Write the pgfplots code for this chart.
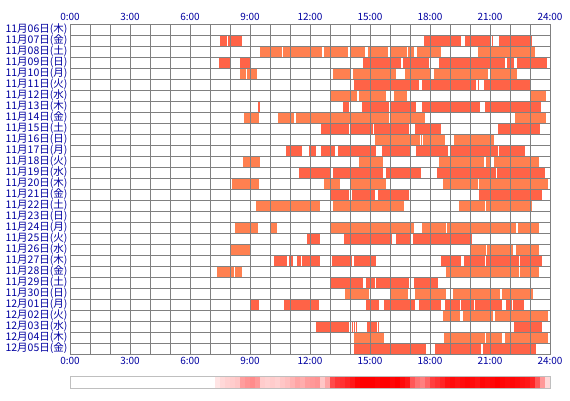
\documentclass[border=0pt]{standalone}
\usepackage{fontspec}
\usepackage{pgfplots}
\pgfplotsset{compat=1.18}
\newfontfamily\jp{Noto Sans CJK JP}
\definecolor{barA}{RGB}{255,99,71}
\definecolor{barB}{RGB}{255,128,80}
\definecolor{lbl}{RGB}{0,0,160}
\definecolor{gridc}{RGB}{128,128,128}
\begin{document}
\begin{tikzpicture}[x=1pt,y=1pt]
\useasboundingbox (0,0) rectangle (570,400);
\begin{axis}[
  at={(70pt,46pt)}, anchor=south west,
  width=480pt, height=330pt, scale only axis,
  xmin=0, xmax=24, ymin=0, ymax=30, y dir=reverse,
  xtick={0,3,...,24},
  xticklabels={0:00,3:00,6:00,9:00,12:00,15:00,18:00,21:00,24:00},
  minor xtick={0,1,...,24},
  ytick={0.5,1.5,...,29.5},
  yticklabels={11月06日(木),11月07日(金),11月08日(土),11月09日(日),11月10日(月),11月11日(火),11月12日(水),11月13日(木),11月14日(金),11月15日(土),11月16日(日),11月17日(月),11月18日(火),11月19日(水),11月20日(木),11月21日(金),11月22日(土),11月23日(日),11月24日(月),11月25日(火),11月26日(水),11月27日(木),11月28日(金),11月29日(土),11月30日(日),12月01日(月),12月02日(火),12月03日(水),12月04日(木),12月05日(金)},
  minor ytick={0,1,...,30},
  xmajorgrids, xminorgrids, yminorgrids,
  major grid style={draw=gridc, line width=1pt},
  minor grid style={draw=gridc, line width=1pt},
  major tick length=0pt, minor tick length=0pt,
  axis line style={draw=gridc, line width=1pt},
  axis on top,
  unbounded coords=jump,
  xticklabel style={font=\jp\fontsize{10}{10}\selectfont, text=lbl},
  yticklabel style={font=\jp\fontsize{10.5}{10.5}\selectfont, text=lbl, xshift=1pt},
  every axis plot/.append style={line width=11pt, line cap=butt, mark=none},
]
% row 1 11/07
\addplot[barA] coordinates {(7.52,1.5)(7.85,1.5)(nan,nan)(7.9,1.5)(8.6,1.5)(nan,nan)(17.72,1.5)(19.55,1.5)(nan,nan)(19.77,1.5)(21.05,1.5)(nan,nan)(21.08,1.5)(21.12,1.5)(nan,nan)(21.47,1.5)(23.1,1.5)};
% row 2 11/08
\addplot[barB] coordinates {(9.5,2.5)(10.58,2.5)(nan,nan)(10.65,2.5)(12.58,2.5)(nan,nan)(12.72,2.5)(13.92,2.5)(nan,nan)(14.03,2.5)(14.75,2.5)(nan,nan)(14.88,2.5)(15.88,2.5)(nan,nan)(16.03,2.5)(16.83,2.5)(nan,nan)(16.92,2.5)(17.22,2.5)(nan,nan)(17.37,2.5)(18.55,2.5)(nan,nan)(20.4,2.5)(23.25,2.5)};
% row 3 11/09
\addplot[barA] coordinates {(7.45,3.5)(8.0,3.5)(nan,nan)(8.5,3.5)(9.0,3.5)(nan,nan)(14.63,3.5)(16.53,3.5)(nan,nan)(16.63,3.5)(17.95,3.5)(nan,nan)(18.47,3.5)(21.75,3.5)(nan,nan)(21.83,3.5)(22.2,3.5)(nan,nan)(22.37,3.5)(23.83,3.5)};
% row 4 11/10
\addplot[barB] coordinates {(8.52,4.5)(8.78,4.5)(nan,nan)(8.87,4.5)(9.37,4.5)(nan,nan)(13.15,4.5)(14.07,4.5)(nan,nan)(14.13,4.5)(16.32,4.5)(nan,nan)(16.73,4.5)(17.98,4.5)(nan,nan)(18.18,4.5)(20.91,4.5)(nan,nan)(21.0,4.5)(22.36,4.5)};
% row 5 11/11
\addplot[barA] coordinates {(14.18,5.5)(17.43,5.5)(nan,nan)(17.6,5.5)(20.3,5.5)(nan,nan)(20.38,5.5)(20.45,5.5)(nan,nan)(20.68,5.5)(22.98,5.5)};
% row 6 11/12
\addplot[barB] coordinates {(13.03,6.5)(14.37,6.5)(nan,nan)(14.43,6.5)(15.82,6.5)(nan,nan)(16.2,6.5)(16.87,6.5)(nan,nan)(23.02,6.5)(23.82,6.5)};
% row 7 11/13
\addplot[barA] coordinates {(9.4,7.5)(9.52,7.5)(nan,nan)(13.65,7.5)(13.97,7.5)(nan,nan)(14.62,7.5)(15.95,7.5)(nan,nan)(16.07,7.5)(17.28,7.5)(nan,nan)(17.6,7.5)(20.48,7.5)(nan,nan)(20.74,7.5)(23.57,7.5)};
% row 8 11/14
\addplot[barB] coordinates {(8.72,8.5)(9.47,8.5)(nan,nan)(10.42,8.5)(11.22,8.5)(nan,nan)(11.32,8.5)(15.97,8.5)(nan,nan)(16.07,8.5)(17.77,8.5)(nan,nan)(22.27,8.5)(23.8,8.5)};
% row 9 11/15
\addplot[barA] coordinates {(12.57,9.5)(13.93,9.5)(nan,nan)(13.98,9.5)(15.17,9.5)(nan,nan)(15.22,9.5)(16.97,9.5)(nan,nan)(17.27,9.5)(18.55,9.5)(nan,nan)(21.42,9.5)(23.52,9.5)};
% row 10 11/16
\addplot[barB] coordinates {(15.27,10.5)(17.5,10.5)(nan,nan)(17.57,10.5)(17.62,10.5)(nan,nan)(17.67,10.5)(18.77,10.5)(nan,nan)(19.22,10.5)(21.22,10.5)};
% row 11 11/17
\addplot[barA] coordinates {(10.82,11.5)(11.62,11.5)(nan,nan)(11.97,11.5)(12.3,11.5)(nan,nan)(12.57,11.5)(13.27,11.5)(nan,nan)(13.42,11.5)(15.3,11.5)(nan,nan)(15.62,11.5)(17.02,11.5)(nan,nan)(17.32,11.5)(18.92,11.5)(nan,nan)(19.0,11.5)(21.4,11.5)(nan,nan)(21.47,11.5)(22.75,11.5)};
% row 12 11/18
\addplot[barB] coordinates {(8.67,12.5)(9.52,12.5)(nan,nan)(14.47,12.5)(15.65,12.5)(nan,nan)(18.47,12.5)(20.72,12.5)(nan,nan)(20.82,12.5)(20.98,12.5)(nan,nan)(21.22,12.5)(23.43,12.5)};
% row 13 11/19
\addplot[barA] coordinates {(11.47,13.5)(13.07,13.5)(nan,nan)(13.17,13.5)(15.65,13.5)(nan,nan)(15.82,13.5)(17.57,13.5)(nan,nan)(18.37,13.5)(21.3,13.5)(nan,nan)(21.37,13.5)(23.75,13.5)};
% row 14 11/20
\addplot[barB] coordinates {(8.12,14.5)(9.47,14.5)(nan,nan)(12.72,14.5)(13.5,14.5)(nan,nan)(14.07,14.5)(15.82,14.5)(nan,nan)(18.67,14.5)(20.42,14.5)(nan,nan)(20.47,14.5)(23.92,14.5)};
% row 15 11/21
\addplot[barA] coordinates {(13.0,15.5)(13.97,15.5)(nan,nan)(14.12,15.5)(15.27,15.5)(nan,nan)(15.42,15.5)(16.97,15.5)(nan,nan)(20.47,15.5)(23.6,15.5)};
% row 16 11/22
\addplot[barB] coordinates {(9.32,16.5)(12.52,16.5)(nan,nan)(13.17,16.5)(16.72,16.5)(nan,nan)(19.47,16.5)(20.73,16.5)(nan,nan)(20.82,16.5)(23.1,16.5)};
% row 18 11/24
\addplot[barB] coordinates {(8.27,18.5)(9.42,18.5)(nan,nan)(10.02,18.5)(10.37,18.5)(nan,nan)(13.0,18.5)(17.22,18.5)(nan,nan)(17.6,18.5)(18.8,18.5)(nan,nan)(18.87,18.5)(22.3,18.5)(nan,nan)(22.42,18.5)(23.43,18.5)};
% row 19 11/25
\addplot[barA] coordinates {(11.87,19.5)(12.52,19.5)(nan,nan)(13.72,19.5)(16.1,19.5)(nan,nan)(16.32,19.5)(17.0,19.5)(nan,nan)(17.17,19.5)(20.1,19.5)};
% row 20 11/26
\addplot[barB] coordinates {(8.02,20.5)(9.05,20.5)(nan,nan)(20.02,20.5)(20.8,20.5)(nan,nan)(20.87,20.5)(22.15,20.5)(nan,nan)(22.32,20.5)(23.47,20.5)};
% row 21 11/27
\addplot[barA] coordinates {(10.22,21.5)(10.87,21.5)(nan,nan)(10.95,21.5)(11.17,21.5)(nan,nan)(11.37,21.5)(11.57,21.5)(nan,nan)(11.62,21.5)(12.52,21.5)(nan,nan)(13.12,21.5)(14.1,21.5)(nan,nan)(14.22,21.5)(15.3,21.5)(nan,nan)(18.57,21.5)(19.57,21.5)(nan,nan)(19.72,21.5)(20.77,21.5)(nan,nan)(20.82,21.5)(22.43,21.5)(nan,nan)(22.52,21.5)(23.6,21.5)};
% row 22 11/28
\addplot[barB] coordinates {(7.37,22.5)(8.22,22.5)(nan,nan)(8.27,22.5)(8.6,22.5)(nan,nan)(18.82,22.5)(22.43,22.5)(nan,nan)(22.52,22.5)(23.47,22.5)};
% row 23 11/29
\addplot[barA] coordinates {(13.0,23.5)(14.67,23.5)(nan,nan)(14.82,23.5)(15.27,23.5)(nan,nan)(15.32,23.5)(16.97,23.5)(nan,nan)(17.22,23.5)(18.42,23.5)};
% row 24 11/30
\addplot[barB] coordinates {(13.77,24.5)(14.97,24.5)(nan,nan)(16.02,24.5)(16.92,24.5)(nan,nan)(17.27,24.5)(18.82,24.5)(nan,nan)(19.17,24.5)(21.5,24.5)(nan,nan)(21.6,24.5)(23.17,24.5)};
% row 25 12/01
\addplot[barA] coordinates {(9.0,25.5)(9.47,25.5)(nan,nan)(10.72,25.5)(12.47,25.5)(nan,nan)(14.82,25.5)(15.47,25.5)(nan,nan)(15.72,25.5)(17.27,25.5)(nan,nan)(17.47,25.5)(18.57,25.5)(nan,nan)(18.77,25.5)(19.52,25.5)(nan,nan)(19.57,25.5)(20.22,25.5)(nan,nan)(20.27,25.5)(21.62,25.5)(nan,nan)(21.82,25.5)(22.1,25.5)(nan,nan)(22.17,25.5)(22.72,25.5)};
% row 26 12/02
\addplot[barB] coordinates {(18.67,26.5)(19.52,26.5)(nan,nan)(19.67,26.5)(21.17,26.5)(nan,nan)(21.27,26.5)(23.92,26.5)};
% row 27 12/03
\addplot[barA] coordinates {(12.32,27.5)(13.97,27.5)(nan,nan)(14.1,27.5)(14.15,27.5)(nan,nan)(14.2,27.5)(14.25,27.5)(nan,nan)(14.3,27.5)(14.35,27.5)(nan,nan)(14.87,27.5)(15.37,27.5)(nan,nan)(15.42,27.5)(15.47,27.5)(nan,nan)(22.22,27.5)(23.6,27.5)};
% row 28 12/04
\addplot[barB] coordinates {(14.22,28.5)(15.72,28.5)(nan,nan)(18.72,28.5)(20.77,28.5)(nan,nan)(20.82,28.5)(21.62,28.5)(nan,nan)(21.77,28.5)(23.92,28.5)};
% row 29 12/05
\addplot[barA] coordinates {(14.22,29.5)(17.82,29.5)(nan,nan)(18.27,29.5)(20.55,29.5)(nan,nan)(20.67,29.5)(23.3,29.5)};
\end{axis}
% top tick labels
\begin{axis}[
  at={(70pt,46pt)}, anchor=south west,
  width=480pt, height=330pt, scale only axis,
  xmin=0, xmax=24, ymin=0, ymax=30,
  xtick={0,3,...,24},
  xticklabels={0:00,3:00,6:00,9:00,12:00,15:00,18:00,21:00,24:00},
  xticklabel pos=upper, ytick=\empty,
  axis line style={draw=none}, major tick length=0pt,
  xticklabel style={font=\jp\fontsize{10}{10}\selectfont, text=lbl},
]
\end{axis}
% frequency strip
\begin{axis}[
  at={(70pt,12pt)}, anchor=south west,
  width=480pt, height=12pt, scale only axis,
  xmin=0, xmax=24, ymin=-0.5, ymax=1.5,
  xtick=\empty, ytick=\empty,
  axis line style={draw=gray!50, line width=1pt},
  colormap={wr}{rgb255(0cm)=(255,255,255); rgb255(1cm)=(255,0,0)},
  point meta min=0, point meta max=1,
  axis on top,
]
\addplot[matrix plot*, mesh/cols=68, point meta=explicit] coordinates {
(7.125,0)[0] (7.375,0)[0.1] (7.625,0)[0.15] (7.875,0)[0.18]
(8.125,0)[0.2] (8.375,0)[0.22] (8.625,0)[0.38] (8.875,0)[0.42]
(9.125,0)[0.45] (9.375,0)[0.4] (9.625,0)[0.2] (9.875,0)[0.18]
(10.125,0)[0.2] (10.375,0)[0.18] (10.625,0)[0.22] (10.875,0)[0.25]
(11.125,0)[0.3] (11.375,0)[0.35] (11.625,0)[0.32] (11.875,0)[0.38]
(12.125,0)[0.4] (12.375,0)[0.42] (12.625,0)[0.22] (12.875,0)[0.35]
(13.125,0)[0.7] (13.375,0)[0.78] (13.625,0)[0.8] (13.875,0)[0.85]
(14.125,0)[0.9] (14.375,0)[0.97] (14.625,0)[1] (14.875,0)[1]
(15.125,0)[1] (15.375,0)[0.97] (15.625,0)[1] (15.875,0)[1]
(16.125,0)[0.97] (16.375,0)[1] (16.625,0)[0.95] (16.875,0)[0.9]
(17.125,0)[0.65] (17.375,0)[0.55] (17.625,0)[0.5] (17.875,0)[0.6]
(18.125,0)[0.75] (18.375,0)[0.8] (18.625,0)[0.85] (18.875,0)[0.92]
(19.125,0)[0.95] (19.375,0)[0.92] (19.625,0)[0.95] (19.875,0)[0.97]
(20.125,0)[0.95] (20.375,0)[0.92] (20.625,0)[0.97] (20.875,0)[0.95]
(21.125,0)[0.97] (21.375,0)[1] (21.625,0)[0.97] (21.875,0)[0.95]
(22.125,0)[0.97] (22.375,0)[0.95] (22.625,0)[0.92] (22.875,0)[0.9]
(23.125,0)[0.85] (23.375,0)[0.65] (23.625,0)[0.4] (23.875,0)[0.15]
(7.125,1)[0] (7.375,1)[0.1] (7.625,1)[0.15] (7.875,1)[0.18]
(8.125,1)[0.2] (8.375,1)[0.22] (8.625,1)[0.38] (8.875,1)[0.42]
(9.125,1)[0.45] (9.375,1)[0.4] (9.625,1)[0.2] (9.875,1)[0.18]
(10.125,1)[0.2] (10.375,1)[0.18] (10.625,1)[0.22] (10.875,1)[0.25]
(11.125,1)[0.3] (11.375,1)[0.35] (11.625,1)[0.32] (11.875,1)[0.38]
(12.125,1)[0.4] (12.375,1)[0.42] (12.625,1)[0.22] (12.875,1)[0.35]
(13.125,1)[0.7] (13.375,1)[0.78] (13.625,1)[0.8] (13.875,1)[0.85]
(14.125,1)[0.9] (14.375,1)[0.97] (14.625,1)[1] (14.875,1)[1]
(15.125,1)[1] (15.375,1)[0.97] (15.625,1)[1] (15.875,1)[1]
(16.125,1)[0.97] (16.375,1)[1] (16.625,1)[0.95] (16.875,1)[0.9]
(17.125,1)[0.65] (17.375,1)[0.55] (17.625,1)[0.5] (17.875,1)[0.6]
(18.125,1)[0.75] (18.375,1)[0.8] (18.625,1)[0.85] (18.875,1)[0.92]
(19.125,1)[0.95] (19.375,1)[0.92] (19.625,1)[0.95] (19.875,1)[0.97]
(20.125,1)[0.95] (20.375,1)[0.92] (20.625,1)[0.97] (20.875,1)[0.95]
(21.125,1)[0.97] (21.375,1)[1] (21.625,1)[0.97] (21.875,1)[0.95]
(22.125,1)[0.97] (22.375,1)[0.95] (22.625,1)[0.92] (22.875,1)[0.9]
(23.125,1)[0.85] (23.375,1)[0.65] (23.625,1)[0.4] (23.875,1)[0.15]
};
\end{axis}
\end{tikzpicture}
\end{document}
